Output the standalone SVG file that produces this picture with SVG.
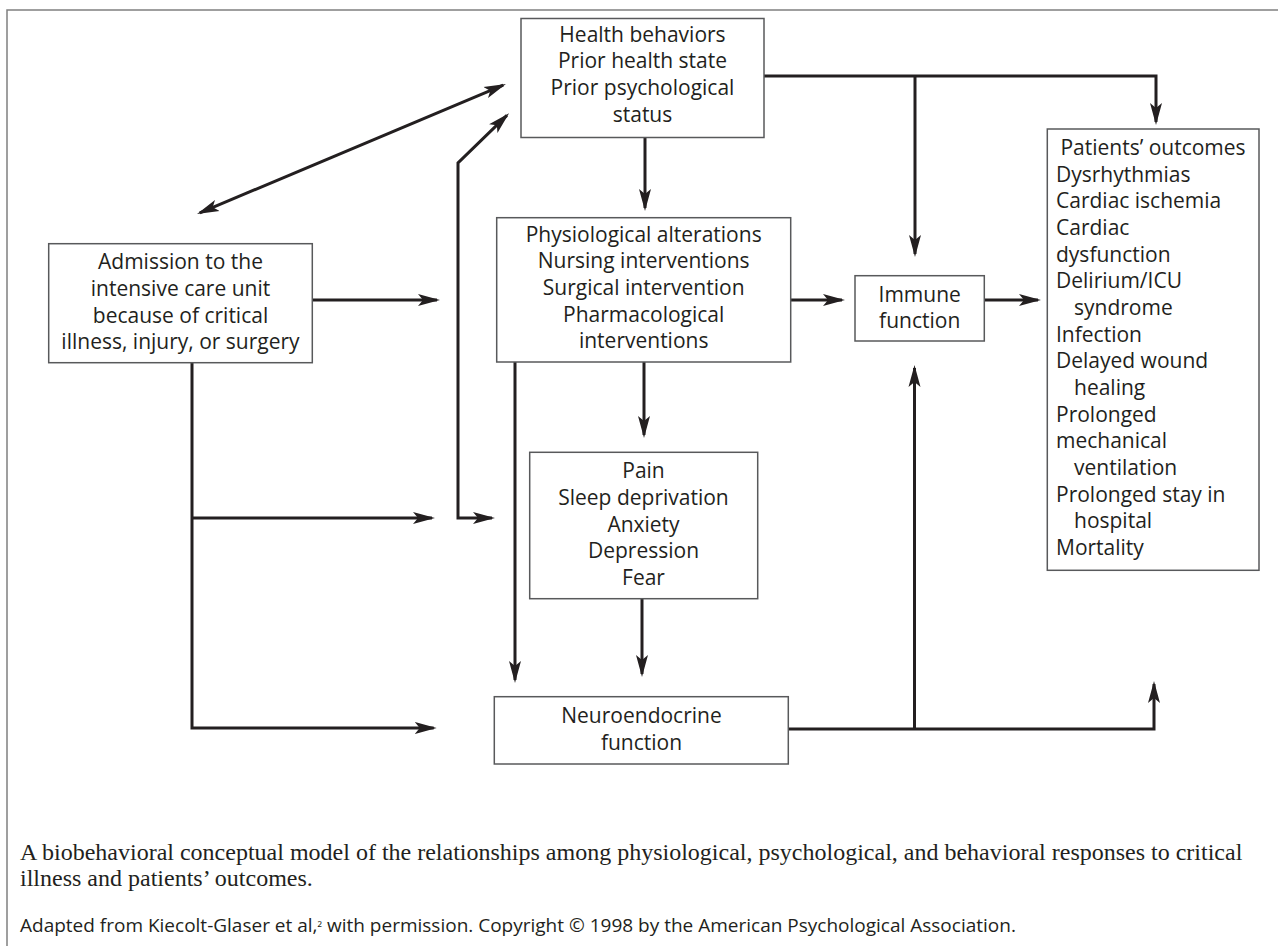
<svg xmlns="http://www.w3.org/2000/svg" width="1278" height="946" viewBox="0 0 1278 946">
<style>
.box{fill:#fff;stroke:#58595b;stroke-width:1.5}
.t{font-family:"Open Sans","Noto Sans","DejaVu Sans",sans-serif;font-size:21px;fill:#231f20}
.c{text-anchor:middle}
.ln{fill:none;stroke:#231f20;stroke-width:3;stroke-linejoin:miter}
.frame{fill:none;stroke:#808080;stroke-width:1.5}
.cap{font-family:"Liberation Serif","Times New Roman",serif;font-size:24px;fill:#231f20}
.src{font-family:"Open Sans","Noto Sans",sans-serif;font-size:19px;fill:#231f20}
</style>
<defs>
<marker id="ah" markerUnits="userSpaceOnUse" markerWidth="24" markerHeight="14" viewBox="0 -7 24 14" refX="19" refY="0" orient="auto-start-reverse">
<path d="M0,-6 L22,0 L0,6 L5,0 Z" fill="#231f20"/>
</marker>
</defs>
<rect width="1278" height="946" fill="#fff"/>
<path class="frame" d="M1278,10 H7 V946"/>
<g id="connectors">
<path class="ln" d="M199.8,212.8 L503.2,85.2" marker-start="url(#ah)" marker-end="url(#ah)"/>
<path class="ln" d="M312,300 H437" marker-end="url(#ah)"/>
<path class="ln" d="M192,363 V728 H433.7" marker-end="url(#ah)"/>
<path class="ln" d="M192,518 H432" marker-end="url(#ah)"/>
<path class="ln" d="M492,518 H458 V163 L506.9,115.4" marker-start="url(#ah)" marker-end="url(#ah)"/>
<path class="ln" d="M645,138 V208" marker-end="url(#ah)"/>
<path class="ln" d="M764,76 H1156 V122" marker-end="url(#ah)"/>
<path class="ln" d="M915,76 V254" marker-end="url(#ah)"/>
<path class="ln" d="M791,300 H842" marker-end="url(#ah)"/>
<path class="ln" d="M984,300 H1038" marker-end="url(#ah)"/>
<path class="ln" d="M515,362 V680" marker-end="url(#ah)"/>
<path class="ln" d="M644,362 V435" marker-end="url(#ah)"/>
<path class="ln" d="M642,599 V674" marker-end="url(#ah)"/>
<path class="ln" d="M788,729 H1154 V684" marker-end="url(#ah)"/>
<path class="ln" d="M914.5,729 V368" marker-end="url(#ah)"/>
</g>
<g id="health">
<rect class="box" x="521" y="18.5" width="243" height="119"/>
<text class="t c" x="642.5" y="41.7">Health behaviors</text>
<text class="t c" x="642.5" y="68.3">Prior health state</text>
<text class="t c" x="642.5" y="95">Prior psychological</text>
<text class="t c" x="642.5" y="121.7">status</text>
</g>
<g id="admission">
<rect class="box" x="48.7" y="243.7" width="263.6" height="119"/>
<text class="t c" x="180.5" y="269.3">Admission to the</text>
<text class="t c" x="180.5" y="296">intensive care unit</text>
<text class="t c" x="180.5" y="322.7">because of critical</text>
<text class="t c" x="180.5" y="349.3">illness, injury, or surgery</text>
</g>
<g id="physio">
<rect class="box" x="496.7" y="217.7" width="294" height="144.3"/>
<text class="t c" x="643.7" y="241.7">Physiological alterations</text>
<text class="t c" x="643.7" y="268.3">Nursing interventions</text>
<text class="t c" x="643.7" y="295">Surgical intervention</text>
<text class="t c" x="643.7" y="321.7">Pharmacological</text>
<text class="t c" x="643.7" y="348.3">interventions</text>
</g>
<g id="immune">
<rect class="box" x="855" y="275.7" width="129.3" height="65.3"/>
<text class="t c" x="919.7" y="301.7">Immune</text>
<text class="t c" x="919.7" y="328.3">function</text>
</g>
<g id="outcomes">
<rect class="box" x="1047.3" y="129" width="211.7" height="441.3"/>
<text class="t c" x="1153" y="155">Patients’ outcomes</text>
<text class="t" x="1056" y="181.7">Dysrhythmias</text>
<text class="t" x="1056" y="208.3">Cardiac ischemia</text>
<text class="t" x="1056" y="235">Cardiac</text>
<text class="t" x="1056" y="261.7">dysfunction</text>
<text class="t" x="1056" y="288.3">Delirium/ICU</text>
<text class="t" x="1074" y="315">syndrome</text>
<text class="t" x="1056" y="341.7">Infection</text>
<text class="t" x="1056" y="368.3">Delayed wound</text>
<text class="t" x="1074" y="395">healing</text>
<text class="t" x="1056" y="421.7">Prolonged</text>
<text class="t" x="1056" y="448.3">mechanical</text>
<text class="t" x="1074" y="475">ventilation</text>
<text class="t" x="1056" y="501.7">Prolonged stay in</text>
<text class="t" x="1074" y="528.3">hospital</text>
<text class="t" x="1056" y="555">Mortality</text>
</g>
<g id="pain">
<rect class="box" x="529.7" y="452.3" width="228" height="146.4"/>
<text class="t c" x="643.5" y="478.3">Pain</text>
<text class="t c" x="643.5" y="505">Sleep deprivation</text>
<text class="t c" x="643.5" y="531.7">Anxiety</text>
<text class="t c" x="643.5" y="558.3">Depression</text>
<text class="t c" x="643.5" y="585">Fear</text>
</g>
<g id="neuro">
<rect class="box" x="494.3" y="696.7" width="294" height="67.3"/>
<text class="t c" x="641.5" y="723.3">Neuroendocrine</text>
<text class="t c" x="641.5" y="750">function</text>
</g>
<g id="caption">
<text class="cap" x="20" y="860">A biobehavioral conceptual model of the relationships among physiological, psychological, and behavioral responses to critical</text>
<text class="cap" x="20" y="886">illness and patients’ outcomes.</text>
<text class="src" x="20" y="932">Adapted from Kiecolt-Glaser et al,<tspan font-size="13">²</tspan> with permission. Copyright © 1998 by the American Psychological Association.</text>
</g>
</svg>
